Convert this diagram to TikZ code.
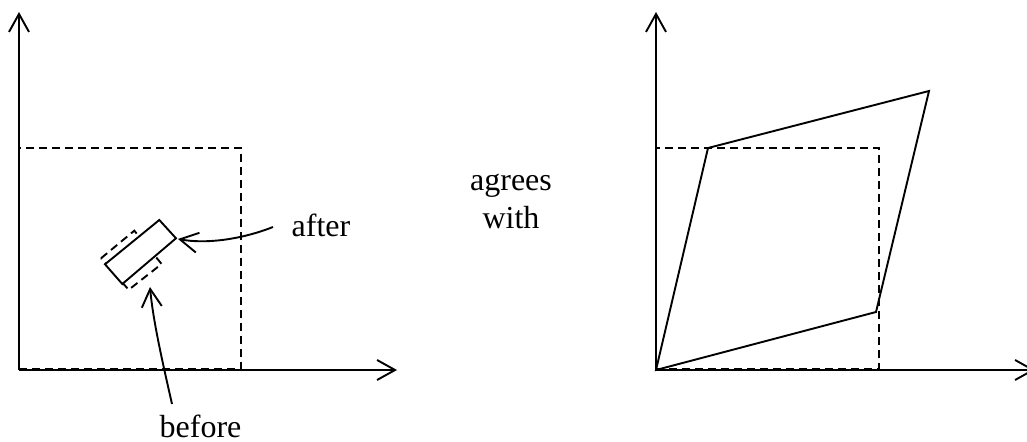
\documentclass[tikz,border=0pt]{standalone}
\usepackage{fontspec}
\setmainfont{Liberation Serif}
\usetikzlibrary{arrows.meta}
\begin{document}
\begin{tikzpicture}[x=0.5pt,y=-0.5pt,
  line width=0.95pt,
  tip/.style={-{Straight Barb[length=9pt,width=10pt,line width=0.95pt]}},
  dashline/.style={dash pattern=on 4pt off 2.5pt},
  lbl/.style={font=\fontsize{16}{19}\selectfont, inner sep=0pt, anchor=base, align=center}]
\clip (0,0) rectangle (1027,442);
% left axes
\coordinate (O1) at (19,370);
\coordinate (Y1) at (19,12);
\coordinate (X1) at (397,370);
\draw[tip] (O1) -- (Y1);
\draw[tip] (O1) -- (X1);
\draw[dashline] (19,369) -- (241,369) -- (241,148) -- (19,148);
% before square (dashed)
\draw[dashline] (101,258.3) -- (134.3,230.7) -- (161.6,264) -- (128.7,289.8) -- cycle;
% after rectangle (solid)
\coordinate (RA) at (105,264.3);
\coordinate (RB) at (159.3,220);
\coordinate (RC) at (176,238.3);
\coordinate (RD) at (122.3,284);
\draw[fill=white] (RA) -- (RB) -- (RC) -- (RD) -- cycle;
% labels
\node[lbl] (after) at (321,236.7) {after};
\node[lbl] (agrees) at (511,228.3) {agrees\\with};
\node[lbl] (before) at (200.5,437.7) {before};
% arrows
\coordinate (atail) at (273,227);
\coordinate (atip) at (178,239);
\draw[tip] (atail) .. controls (240,240) and (205,244) .. (atip);
\coordinate (btail) at (172,404);
\coordinate (btip) at (150,287);
\draw[tip] (btail) .. controls (162,360) and (153,320) .. (btip);
% right axes
\coordinate (O2) at (656,370);
\draw[tip] (O2) -- (656,12);
\draw[tip] (O2) -- (1035,370);
\draw[dashline] (656,369) -- (879,369) -- (879,148) -- (656,148);
\draw[line join=miter] (O2) -- (708,148) -- (929,91) -- (876,312) -- cycle;
\end{tikzpicture}
\end{document}
